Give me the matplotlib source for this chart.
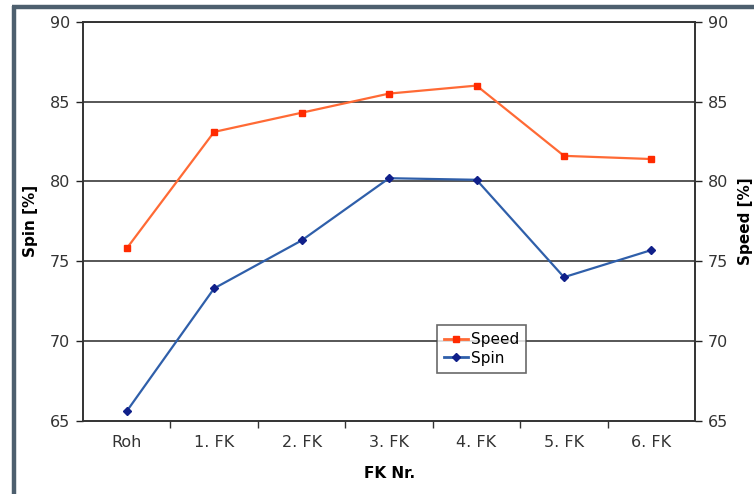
import matplotlib.pyplot as plt
from matplotlib.lines import Line2D
from matplotlib.ticker import FixedLocator

# Messwerte pro Fertigungsstufe
stufen = ["Roh", "1. FK", "2. FK", "3. FK", "4. FK", "5. FK", "6. FK"]
speed = [75.8, 83.1, 84.3, 85.5, 86.0, 81.6, 81.4]
spin = [65.6, 73.3, 76.3, 80.2, 80.1, 74.0, 75.7]
y_ticks = [65, 70, 75, 80, 85, 90]

plt.rcParams['font.family'] = ['DejaVu Sans']

fig = plt.figure(figsize=(7.54, 4.94), dpi=100)
fig.patch.set_facecolor('white')

# Rahmen um das Diagramm (links und oben)
fig.add_artist(Line2D([0.0185, 0.0185], [0.0, 0.988], transform=fig.transFigure,
                      color='#4d5f6e', lw=3.2, solid_capstyle='butt'))
fig.add_artist(Line2D([0.0165, 1.0], [0.986, 0.986], transform=fig.transFigure,
                      color='#4d5f6e', lw=3.2, solid_capstyle='butt'))

ax = fig.add_axes([0.110, 0.148, 0.812, 0.808])
ax2 = ax.twinx()

x = list(range(len(stufen)))
for a in (ax, ax2):
    a.set_xlim(-0.5, len(stufen) - 0.5)
    a.set_ylim(65, 90)
    a.set_yticks(y_ticks)
    a.tick_params(axis='y', direction='out', length=5, width=1, labelsize=11.5,
                  colors='#222222', pad=4)
    for s in a.spines.values():
        s.set_color('#333333')
        s.set_linewidth(1.2)

ax.set_yticklabels([str(t) for t in y_ticks], color='#333333')
ax2.set_yticklabels([str(t) for t in y_ticks], color='#333333')

# Kategorien mittig, Teilstriche zwischen den Kategorien
ax.set_xticks(x)
ax.set_xticklabels(stufen, fontsize=11.5, color='#333333')
ax.tick_params(axis='x', which='major', length=0, pad=10)
ax.xaxis.set_minor_locator(FixedLocator([i + 0.5 for i in range(len(stufen) - 1)]))
ax.tick_params(axis='x', which='minor', direction='out', length=5, width=1,
               color='#333333')

for t in y_ticks[1:]:
    ax.axhline(t, color='#3a3a3a', lw=1.2, zorder=1)

ax.plot(x, spin, color='#2f5faa', lw=1.6, marker='D', markersize=4,
        markerfacecolor='#10208a', markeredgecolor='#10208a', zorder=3)
ax2.plot(x, speed, color='#ff6a35', lw=1.6, marker='s', markersize=5,
         markerfacecolor='#ff2a00', markeredgecolor='#ff2a00', zorder=3)

ax.set_ylabel("Spin [%]", fontsize=11, fontweight='bold', labelpad=9)
ax2.set_ylabel("Speed [%]", fontsize=11, fontweight='bold', rotation=90,
               labelpad=7)
ax.set_xlabel("FK Nr.", fontsize=11, fontweight='bold', labelpad=12)

handles = [
    Line2D([], [], color='#ff6a35', lw=2, marker='s', markersize=5,
           markerfacecolor='#ff2a00', markeredgecolor='#ff2a00'),
    Line2D([], [], color='#2f5faa', lw=2, marker='D', markersize=4,
           markerfacecolor='#10208a', markeredgecolor='#10208a'),
]
leg = ax2.legend(handles, ["Speed", "Spin"], loc='upper left',
                 bbox_to_anchor=(0.578, 0.24), fontsize=11, frameon=True,
                 fancybox=False, handlelength=1.6, handletextpad=0.2,
                 borderpad=0.45, labelspacing=0.25, borderaxespad=0)
leg.get_frame().set_edgecolor('#444444')
leg.get_frame().set_linewidth(1.2)

fig.savefig("out.png", dpi=100, facecolor='white')
